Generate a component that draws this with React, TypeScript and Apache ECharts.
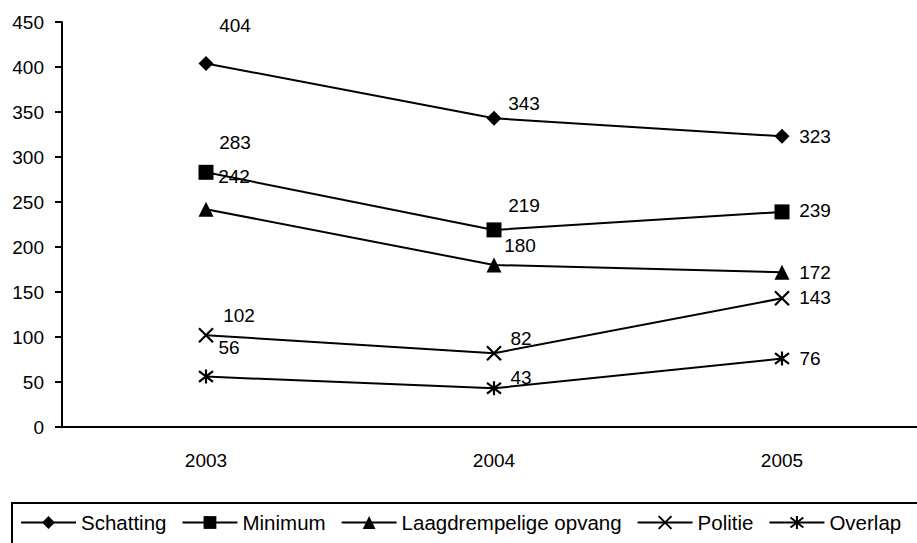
import React, { useEffect, useRef } from "react";
import * as echarts from "echarts";

const years = ["2003", "2004", "2005"];
const seriesNames = ["Schatting", "Minimum", "Laagdrempelige opvang", "Politie", "Overlap"];
const schatting = [404, 343, 323];
const minimum = [283, 219, 239];
const laagdrempelig = [242, 180, 172];
const politie = [102, 82, 143];
const overlap = [56, 43, 76];
const yTicks = { min: 0, max: 450, interval: 50 };

const FONT = "'Liberation Sans', Arial, sans-serif";

export default function App() {
  const ref = useRef<HTMLDivElement>(null);
  useEffect(() => {
    document.body.style.margin = "0";
    const chart = echarts.init(ref.current!, null, { renderer: "svg" });

    const values = [schatting, minimum, laagdrempelig, politie, overlap];
    const symbols = [
      "diamond",
      "rect",
      "triangle",
      "path://M0,0L10,10M10,0L0,10",
      "path://M0,0L10,10M10,0L0,10M5,-1.5L5,11.5",
    ];
    const sizes = [15, 15, 15, 14, 14];
    const borderWidths = [0, 0, 0, 2.2, 2.2];
    // label placement (layout only): offset of label centre from the marker
    const labelOffsets = [
      [[29, -38], [30, -15], [33, 0]],
      [[29, -30], [30, -24], [33, -1]],
      [[28, -33], [26, -20], [33, 0]],
      [[33, -20], [27, -15], [33, -1]],
      [[23, -29], [27, -11], [28, 0]],
    ];

    const series = seriesNames.map((name, s) => ({
      name,
      type: "line",
      symbol: symbols[s],
      symbolSize: sizes[s],
      showAllSymbol: true,
      lineStyle: { color: "#000", width: 2 },
      itemStyle: {
        color: s >= 3 ? "none" : "#000",
        borderColor: "#000",
        borderWidth: borderWidths[s],
      },
      label: {
        show: true,
        position: "inside",
        color: "#000",
        fontSize: 19,
        fontFamily: FONT,
      },
      emphasis: { disabled: true },
      data: values[s].map((v, i) => ({
        value: v,
        label: { offset: labelOffsets[s][i] },
      })),
      z: 3,
    }));

    chart.setOption({
      animation: false,
      backgroundColor: "#fff",
      grid: { left: 62, top: 22, width: 864, bottom: 116, containLabel: false },
      xAxis: {
        type: "category",
        data: years,
        boundaryGap: true,
        axisLine: { lineStyle: { color: "#000", width: 2 } },
        axisTick: { show: false },
        axisLabel: { color: "#000", fontSize: 19, fontFamily: FONT, margin: 24 },
        splitLine: { show: false },
      },
      yAxis: {
        type: "value",
        min: yTicks.min,
        max: yTicks.max,
        interval: yTicks.interval,
        axisLine: { show: true, lineStyle: { color: "#000", width: 2 } },
        axisTick: { show: true, length: 7, lineStyle: { color: "#000", width: 2 } },
        axisLabel: { color: "#000", fontSize: 19, fontFamily: FONT, margin: 18 },
        splitLine: { show: false },
      },
      legend: {
        data: seriesNames,
        left: 20,
        top: 512,
        padding: 0,
        itemWidth: 55,
        itemHeight: 16,
        itemGap: 15,
        selectedMode: false,
        textStyle: { color: "#000", fontSize: 20.5, fontFamily: FONT },
      },
      graphic: [
        {
          type: "rect",
          shape: { x: 12, y: 503, width: 1000, height: 80 },
          style: { fill: "none", stroke: "#000", lineWidth: 2 },
          silent: true,
        },
      ],
      series,
    });
    return () => chart.dispose();
  }, []);
  return (
    <div style={{ width: 917, height: 543, overflow: "hidden", position: "relative" }}>
      <div ref={ref} style={{ width: 930, height: 543 }} />
    </div>
  );
}
